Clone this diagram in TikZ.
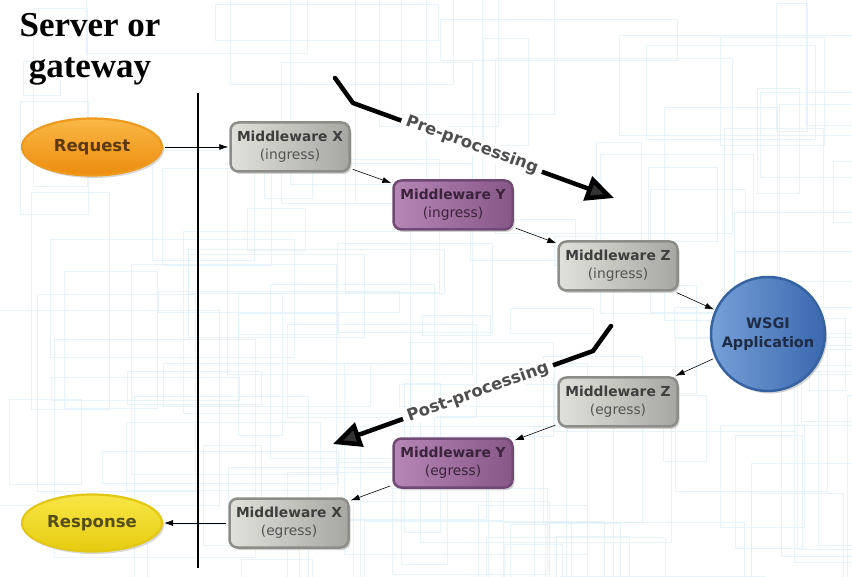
\documentclass[tikz,border=0pt]{standalone}
\usepackage{fontspec}
\newfontfamily\dvsans{DejaVu Sans}
\newfontfamily\titleserif{Liberation Serif}
\usetikzlibrary{shapes.geometric,arrows.meta,shadows}
\definecolor{bgline}{RGB}{218,238,246}
\definecolor{grayA}{RGB}{224,225,219}
\definecolor{grayB}{RGB}{166,167,162}
\definecolor{grayD}{RGB}{140,141,136}
\definecolor{purA}{RGB}{182,134,182}
\definecolor{purB}{RGB}{135,88,135}
\definecolor{purD}{RGB}{112,74,116}
\definecolor{orA}{RGB}{250,184,70}
\definecolor{orB}{RGB}{236,140,14}
\definecolor{orD}{RGB}{238,154,30}
\definecolor{yeA}{RGB}{248,230,70}
\definecolor{yeB}{RGB}{230,204,16}
\definecolor{yeD}{RGB}{226,200,20}
\definecolor{blA}{RGB}{118,160,216}
\definecolor{blB}{RGB}{58,104,174}
\definecolor{blD}{RGB}{55,98,160}
\definecolor{txtgray}{RGB}{62,62,62}
\definecolor{txtgray2}{RGB}{84,84,84}
\definecolor{txtpur}{RGB}{58,36,58}
\definecolor{labelgray}{RGB}{78,78,78}
\newcommand\mwtext[3]{{\bfseries Middleware #1}\\{\color{#3}(#2)}}
\begin{document}
\begin{tikzpicture}[x=1pt,y=-1pt,
  bgrect/.style={draw=bgline,line width=0.9pt},
  mwbox/.style={rectangle,rounded corners=8pt,minimum width=119pt,minimum height=49pt,
    line width=2.5pt,align=center,inner sep=2pt,
    font=\dvsans\fontsize{13.8}{18}\selectfont,
    drop shadow={opacity=0.35,shadow xshift=2pt,shadow yshift=-2.5pt}},
  graybox/.style={mwbox,left color=grayA,right color=grayB,draw=grayD,text=txtgray},
  purbox/.style={mwbox,left color=purA,right color=purB,draw=purD,text=txtpur},
  oval/.style={ellipse,minimum width=140pt,minimum height=57pt,line width=2.2pt,
    font=\dvsans\bfseries\fontsize{16.5}{20}\selectfont,
    drop shadow={opacity=0.3,shadow xshift=2pt,shadow yshift=-2.5pt}},
  arr/.style={line width=0.6pt,-{Latex[length=9pt,width=6pt]},shorten <=2pt,shorten >=1pt},
  bigarr/.style={line width=4.5pt,line join=round,line cap=round,
    -{Triangle[length=28pt,width=25pt,fill=black!80]}},
  proclabel/.style={fill=white,inner xsep=5pt,inner ysep=1pt,rounded corners=6pt,
    text=labelgray,font=\dvsans\bfseries\fontsize{16.5}{19}\selectfont}
]
\useasboundingbox (0,0) rectangle (852,577);
\fill[white] (0,0) rectangle (852,577);
% background texture
\begin{scope}
\clip (0,0) rectangle (852,577);
\pgfmathsetseed{4242}
\foreach \i in {1,...,110}{
  \pgfmathsetmacro{\xa}{rnd*880-20}
  \pgfmathsetmacro{\ya}{rnd*600-20}
  \pgfmathsetmacro{\wa}{30+rnd*230}
  \pgfmathsetmacro{\ha}{20+rnd*200}
  \draw[bgrect,opacity=0.6] (\xa,\ya) rectangle ++(\wa,\ha);
}
\end{scope}

% title
\node[anchor=north,inner sep=0pt,align=center,
  font=\titleserif\bfseries\fontsize{35}{41}\selectfont] (title) at (90,13) {Server or\\gateway};

% divider line
\coordinate (vtop) at (198,93);
\coordinate (vbot) at (198,568);
\draw[line width=1.2pt] (vtop) -- (vbot);

% nodes
\node[oval,top color=orA,bottom color=orB,draw=orD,text={rgb,255:red,92;green,56;blue,14}] (req) at (92,147) {Request};
\node[oval,top color=yeA,bottom color=yeB,draw=yeD,text={rgb,255:red,86;green,78;blue,24}] (resp) at (92,523) {Response};

\node[graybox] (mxi) at (290,147) {\mwtext{X}{ingress}{txtgray2}};
\node[purbox]  (myi) at (453,205) {\mwtext{Y}{ingress}{txtpur}};
\node[graybox] (mzi) at (618,266) {\mwtext{Z}{ingress}{txtgray2}};

\node[circle,minimum size=114pt,line width=2.5pt,left color=blA,right color=blB,draw=blD,
  align=center,inner sep=0pt,text={rgb,255:red,30;green,44;blue,70},
  font=\dvsans\bfseries\fontsize{14.5}{18.5}\selectfont,
  drop shadow={opacity=0.35,shadow xshift=2pt,shadow yshift=-2.5pt}] (app) at (768,334) {WSGI\\Application};

\node[graybox] (mze) at (618,402) {\mwtext{Z}{egress}{txtgray2}};
\node[purbox]  (mye) at (453,463) {\mwtext{Y}{egress}{txtpur}};
\node[graybox] (mxe) at (289,523) {\mwtext{X}{egress}{txtgray2}};

% connectors
\draw[arr] (req) -- (mxi);
\draw[arr] (mxi) -- (myi);
\draw[arr] (myi) -- (mzi);
\draw[arr] (mzi) -- (app);
\draw[arr] (app) -- (mze);
\draw[arr] (mze) -- (mye);
\draw[arr] (mye) -- (mxe);
\draw[arr] (mxe) -- (resp);

% processing arrows
\coordinate (pa) at (335,78);
\coordinate (pb) at (353,103);
\coordinate (pc) at (614,198);
\draw[bigarr] (pa) -- (pb) -- (pc);
\node[proclabel,rotate=-20] (prelab) at (472,145) {Pre-processing};

\coordinate (qa) at (611,326);
\coordinate (qb) at (593,351);
\coordinate (qc) at (333,444);
\draw[bigarr] (qa) -- (qb) -- (qc);
\node[proclabel,rotate=19.6] (postlab) at (478,392) {Post-processing};
\end{tikzpicture}
\end{document}
